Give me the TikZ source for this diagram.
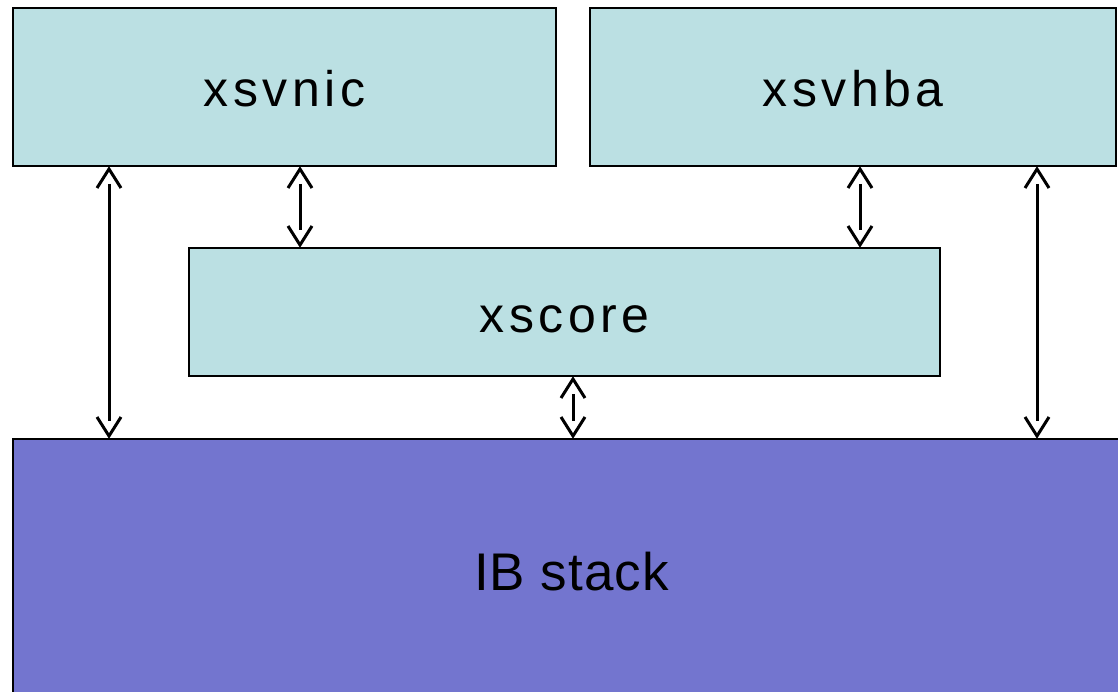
\documentclass[tikz,border=0pt]{standalone}
\usepackage{fontspec}
\setmainfont{Liberation Sans}
\newfontfamily\lblfont[LetterSpace=9]{Liberation Sans}
\newfontfamily\ibfont[LetterSpace=2]{Liberation Sans}
\usetikzlibrary{decorations.markings}
\definecolor{boxblue}{HTML}{BBE0E3}
\definecolor{ibpurple}{HTML}{7375CF}
\tikzset{
  box/.style={draw=black, line width=2.5pt, fill=boxblue, inner sep=0pt, outer sep=0pt,
    text height=40pt, text depth=0pt,
    font=\lblfont\fontsize{50}{60}\selectfont},
  ibbox/.style={box, fill=ibpurple, font=\ibfont\fontsize{53}{62}\selectfont},
  arr/.style={line width=3pt, shorten <=18pt, shorten >=18pt,
    postaction={decorate},
    decoration={markings,
      mark=at position 0 with {\draw[line width=3pt, miter limit=10, shorten <=0pt, shorten >=0pt] (22pt,12pt) -- (3pt,0) -- (22pt,-12pt);},
      mark=at position 1 with {\draw[line width=3pt, miter limit=10, shorten <=0pt, shorten >=0pt] (-22pt,12pt) -- (-3pt,0) -- (-22pt,-12pt);}}}
}
\begin{document}
\begin{tikzpicture}[x=1pt,y=-1pt]
\useasboundingbox (0,0) rectangle (1118,692);
\clip (0,0) rectangle (1118,692);
\node[box, minimum width=543pt, minimum height=158pt] (nic) at (284.5,87) {xsvnic};
\node[box, minimum width=526pt, minimum height=158pt] (hba) at (853,87) {xsvhba};
\node[box, minimum width=751pt, minimum height=128pt] (core) at (564.5,312) {xscore};
\node[ibbox, minimum width=1117pt, minimum height=262pt] (ib) at (571.5,570) {IB stack};
\coordinate (c1) at (109,0);
\coordinate (c2) at (300,0);
\coordinate (c3) at (860,0);
\coordinate (c4) at (1037,0);
\coordinate (c5) at (573,0);
\draw[arr] (nic.south -| c1) -- (ib.north -| c1);
\draw[arr] (nic.south -| c2) -- (core.north -| c2);
\draw[arr] (hba.south -| c3) -- (core.north -| c3);
\draw[arr] (hba.south -| c4) -- (ib.north -| c4);
\draw[arr] (core.south -| c5) -- (ib.north -| c5);
\end{tikzpicture}
\end{document}
